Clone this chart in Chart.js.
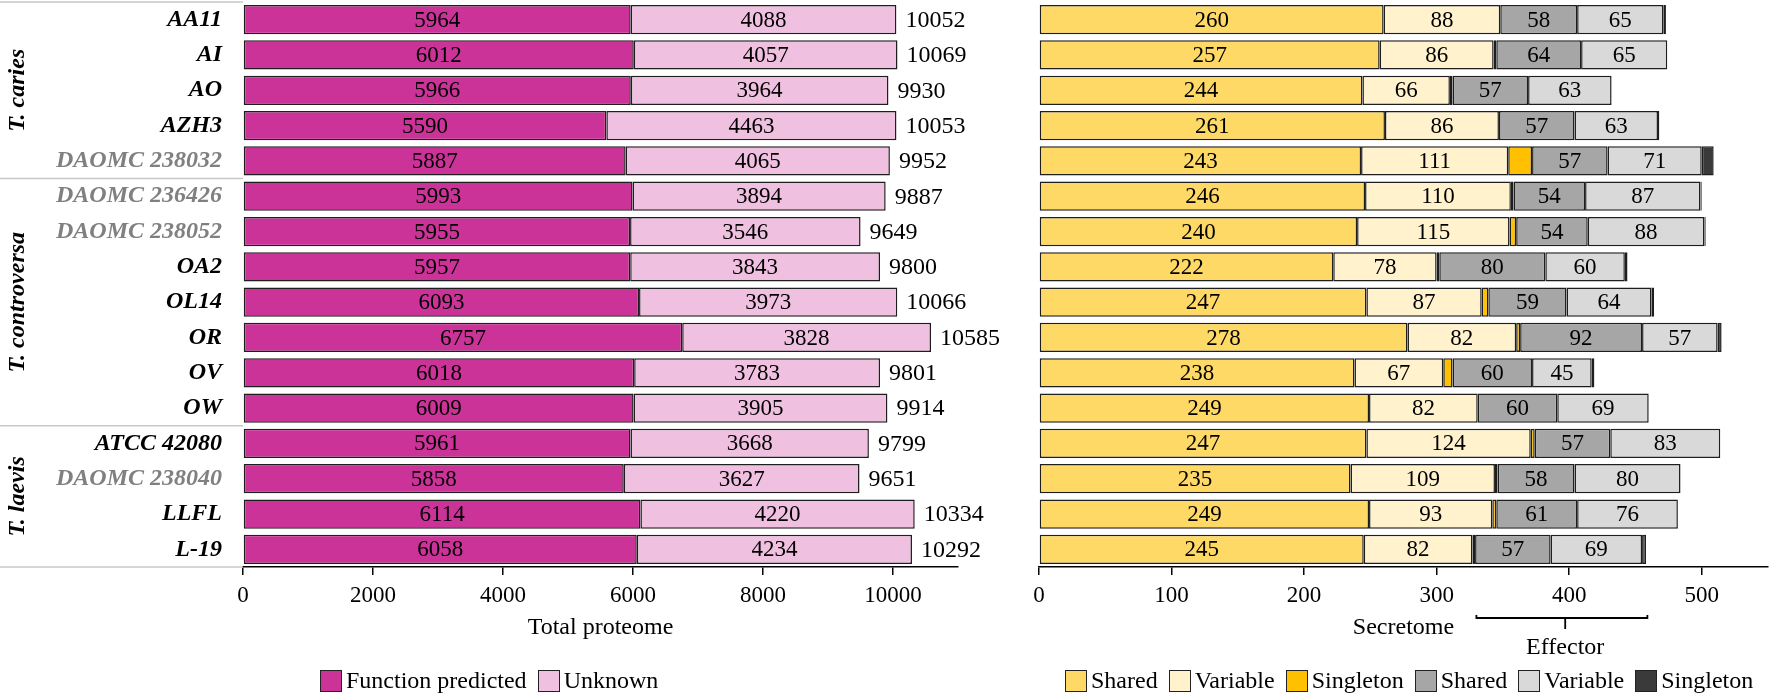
<!DOCTYPE html>
<html>
<head>
<meta charset="utf-8">
<script src="https://cdn.jsdelivr.net/npm/chart.js@4/dist/chart.umd.min.js"></script>
<style>
  body { margin: 0; background: #fff; }
  #wrap { position: relative; width: 1770px; height: 696px; font-family: "Liberation Serif", serif; }
  #leftChart { position: absolute; left: 0; top: 0; }
  #rightChart { position: absolute; left: 1000px; top: 0; }
  .legend { position: absolute; top: 667px; display: flex; align-items: center; font-size: 24px; color: #000; white-space: nowrap; }
  .legend .item { display: flex; align-items: center; margin-right: 11px; }
  .legend .box { width: 20px; height: 20px; border: 1.5px solid #222; margin-right: 4px; }
</style>
</head>
<body>
<div id="wrap">
  <canvas id="leftChart" width="1000" height="696"></canvas>
  <canvas id="rightChart" width="770" height="696"></canvas>
  <div class="legend" id="leftLegend" style="left:320px"></div>
  <div class="legend" id="rightLegend" style="left:1065px"></div>
</div>
<script>
// strains, top to bottom
const strains = ["AA11", "AI", "AO", "AZH3", "DAOMC 238032", "DAOMC 236426", "DAOMC 238052",
    "OA2", "OL14", "OR", "OV", "OW", "ATCC 42080", "DAOMC 238040", "LLFL", "L-19"];

// species groups (first index, last index)
const groups = [
    { name: "T. caries", from: 0, to: 4 },
    { name: "T. controversa", from: 5, to: 11 },
    { name: "T. laevis", from: 12, to: 15 }
];

// total proteome
const functionPredicted = [5964, 6012, 5966, 5590, 5887, 5993, 5955, 5957, 6093, 6757, 6018, 6009, 5961, 5858, 6114, 6058];
const unknown = [4088, 4057, 3964, 4463, 4065, 3894, 3546, 3843, 3973, 3828, 3783, 3905, 3668, 3627, 4220, 4234];
const proteomeTotals = [10052, 10069, 9930, 10053, 9952, 9887, 9649, 9800, 10066, 10585, 9801, 9914, 9799, 9651, 10334, 10292];

// secretome
const secShared = [260, 257, 244, 261, 243, 246, 240, 222, 247, 278, 238, 249, 247, 235, 249, 245];
const secVariable = [88, 86, 66, 86, 111, 110, 115, 78, 87, 82, 67, 82, 124, 109, 93, 82];
const secSingleton = [0, 2, 2, 0, 18, 2, 5, 2, 5, 3, 7, 0, 3, 2, 3, 2];
// effector
const effShared = [58, 64, 57, 57, 57, 54, 54, 80, 59, 92, 60, 60, 57, 58, 61, 57];
const effVariable = [65, 65, 63, 63, 71, 87, 88, 60, 64, 57, 45, 69, 83, 80, 76, 69];
const effSingleton = [2, 0, 0, 1, 9, 1, 1, 2, 2, 3, 2, 0, 0, 0, 0, 3];

const proteomeTicks = [0, 2000, 4000, 6000, 8000, 10000];
const secretomeTicks = [0, 100, 200, 300, 400, 500];

const FONT = "Liberation Serif";

// numbers inside the bars (+ totals at the end)
const valueLabels = {
    id: "valueLabels",
    afterDatasetsDraw(chart, args, opts) {
        const ctx = chart.ctx;
        ctx.save();
        ctx.fillStyle = "#000";
        ctx.textBaseline = "middle";
        ctx.font = "23px '" + FONT + "'";
        ctx.textAlign = "center";
        chart.data.datasets.forEach((ds, i) => {
            if (opts.skip && opts.skip.indexOf(i) >= 0) return;
            chart.getDatasetMeta(i).data.forEach((bar, j) => {
                ctx.fillText(ds.data[j], (bar.x + bar.base) / 2, bar.y + 1);
            });
        });
        if (opts.totals) {
            const last = chart.getDatasetMeta(chart.data.datasets.length - 1);
            ctx.font = "24px '" + FONT + "'";
            ctx.textAlign = "left";
            last.data.forEach((bar, j) => {
                ctx.fillText(opts.totals[j], bar.x + 9, bar.y + 1);
            });
        }
        ctx.restore();
    }
};

// species names + grey separator lines on the left
const speciesGroups = {
    id: "speciesGroups",
    afterDraw(chart) {
        const ctx = chart.ctx;
        const y = chart.scales.y;
        const area = chart.chartArea;
        const half = (y.getPixelForValue(1) - y.getPixelForValue(0)) / 2;
        ctx.save();
        ctx.strokeStyle = "#c8c8c8";
        ctx.lineWidth = 1.5;
        groups.forEach((g, k) => {
            const top = y.getPixelForValue(g.from) - half;
            const bottom = y.getPixelForValue(g.to) + half;
            ctx.beginPath();
            if (k === 0) {
                ctx.moveTo(0, top); ctx.lineTo(area.left, top);
            }
            ctx.moveTo(0, bottom); ctx.lineTo(area.left, bottom);
            ctx.stroke();

            ctx.save();
            ctx.translate(18, (top + bottom) / 2);
            ctx.rotate(-Math.PI / 2);
            ctx.font = "italic bold 24px '" + FONT + "'";
            ctx.fillStyle = "#000";
            ctx.textAlign = "center";
            ctx.textBaseline = "middle";
            ctx.fillText(g.name, 0, 0);
            ctx.restore();
        });
        ctx.restore();
    }
};

// bracket under the effector part
const effectorBracket = {
    id: "effectorBracket",
    afterDraw(chart) {
        const ctx = chart.ctx;
        const x = chart.scales.x;
        const y = chart.chartArea.bottom + 51;
        const x0 = x.getPixelForValue(330), x1 = x.getPixelForValue(459), xm = x.getPixelForValue(397);
        ctx.save();
        ctx.strokeStyle = "#000";
        ctx.lineWidth = 1.8;
        ctx.beginPath();
        ctx.moveTo(x0, y - 3); ctx.lineTo(x0, y); ctx.lineTo(x1, y); ctx.lineTo(x1, y - 3);
        ctx.moveTo(xm, y); ctx.lineTo(xm, y + 11);
        ctx.stroke();
        ctx.font = "24px '" + FONT + "'";
        ctx.fillStyle = "#000";
        ctx.textAlign = "center";
        ctx.textBaseline = "middle";
        ctx.fillText("Effector", xm, y + 30);
        ctx.restore();
    }
};

function barSet(label, data, color) {
    return {
        label: label,
        data: data,
        backgroundColor: color,
        borderColor: "#1e1e1e",
        borderWidth: 1.5,
        borderSkipped: false,
        categoryPercentage: 1,
        barPercentage: 0.83
    };
}

function xAxis(max, ticks, title) {
    return {
        stacked: true,
        min: 0,
        max: max,
        afterBuildTicks: (scale) => { scale.ticks = ticks.map(v => ({ value: v })); },
        afterFit: (scale) => { scale.height = 83; },
        ticks: { color: "#000", padding: 7, font: { family: FONT, size: 23 }, callback: (v) => String(v) },
        grid: { drawOnChartArea: false, drawTicks: true, tickLength: 8, color: "#000", lineWidth: 1.5 },
        border: { display: true, color: "#000", width: 1.5 },
        title: { display: true, text: title, color: "#000", padding: { top: 0, bottom: 8 }, font: { family: FONT, size: 24 } }
    };
}

const proteomeSets = [
    barSet("Function predicted", functionPredicted, "#cc3399"),
    barSet("Unknown", unknown, "#f0c0e0")
];

new Chart(document.getElementById("leftChart"), {
    type: "bar",
    data: { labels: strains, datasets: proteomeSets },
    options: {
        indexAxis: "y",
        responsive: false,
        animation: false,
        layout: { padding: { left: 0, top: 2, right: 42, bottom: 46 } },
        scales: {
            x: xAxis(11000, proteomeTicks, "Total proteome"),
            y: {
                stacked: true,
                afterFit: (scale) => {
                    scale.width = 243;
                    scale.paddingTop = 0;
                    scale.paddingBottom = 0;
                },
                grid: { display: false, drawTicks: false },
                border: { display: false },
                ticks: {
                    padding: 21,
                    color: (c) => strains[c.index].indexOf("DAOMC") === 0 ? "#808080" : "#000",
                    font: { family: FONT, size: 24, style: "italic", weight: "bold" }
                }
            }
        },
        plugins: {
            legend: { display: false },
            tooltip: { enabled: false },
            valueLabels: { totals: proteomeTotals }
        }
    },
    plugins: [valueLabels, speciesGroups]
});

const secretomeSets = [
    barSet("Shared", secShared, "#ffd966"),
    barSet("Variable", secVariable, "#fff2cc"),
    barSet("Singleton", secSingleton, "#ffc000"),
    barSet("Shared", effShared, "#a6a6a6"),
    barSet("Variable", effVariable, "#d9d9d9"),
    barSet("Singleton", effSingleton, "#3a3a3a")
];

new Chart(document.getElementById("rightChart"), {
    type: "bar",
    data: { labels: strains, datasets: secretomeSets },
    options: {
        indexAxis: "y",
        responsive: false,
        animation: false,
        layout: { padding: { left: 39, top: 2, right: 2, bottom: 46 } },
        scales: {
            x: xAxis(550, secretomeTicks, "Secretome"),
            y: { stacked: true, display: false }
        },
        plugins: {
            legend: { display: false },
            tooltip: { enabled: false },
            valueLabels: { skip: [2, 5] }
        }
    },
    plugins: [valueLabels, effectorBracket]
});

// html legends
function buildLegend(id, sets) {
    const el = document.getElementById(id);
    sets.forEach(ds => {
        const item = document.createElement("div");
        item.className = "item";
        const box = document.createElement("span");
        box.className = "box";
        box.style.background = ds.backgroundColor;
        item.appendChild(box);
        item.appendChild(document.createTextNode(ds.label));
        el.appendChild(item);
    });
}
buildLegend("leftLegend", proteomeSets);
buildLegend("rightLegend", secretomeSets);
</script>
</body>
</html>
